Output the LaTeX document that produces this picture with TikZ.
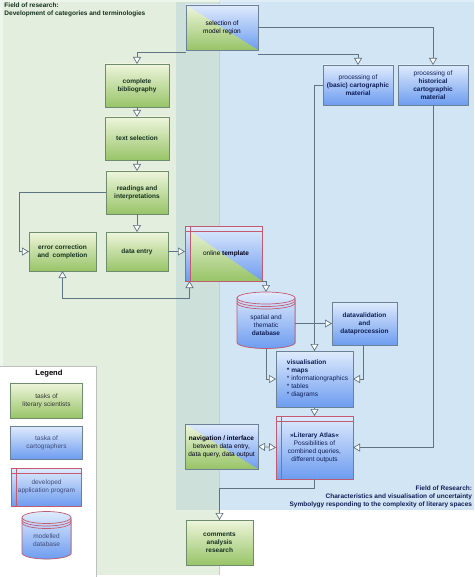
\documentclass[tikz,border=0pt]{standalone}
\usepackage{fontspec}
\setmainfont{Liberation Sans}
\usetikzlibrary{arrows.meta,shadows}
\definecolor{bggreen}{HTML}{E3EEDE}
\definecolor{bgblue}{HTML}{D2E5F4}
\definecolor{bgboth}{HTML}{CDE0DA}
\definecolor{gtop}{HTML}{EEF5DC}
\definecolor{gbot}{HTML}{98C468}
\definecolor{btop}{HTML}{DFEBFC}
\definecolor{bbot}{HTML}{6D9CF0}
\definecolor{gline}{HTML}{6F8C6C}
\definecolor{bline}{HTML}{6B8296}
\definecolor{rline}{HTML}{C25A70}
\definecolor{cline}{HTML}{5E7482}
\definecolor{gtext}{HTML}{14301E}
\definecolor{btext}{HTML}{0E1E56}
\tikzset{
  x=1pt,y=1pt,
  every node/.style={font=\fontsize{6.5}{8}\selectfont,align=center,inner sep=0pt,outer sep=0pt},
  softshadow/.style={drop shadow={shadow xshift=0.8pt,shadow yshift=-0.8pt,opacity=.45,fill=black!60}},
  gbox/.style={draw=gline,line width=.7pt,top color=gtop,bottom color=gbot,softshadow,text=gtext},
  bbox/.style={draw=bline,line width=.7pt,top color=btop,bottom color=bbot,softshadow,text=btext},
  tri/.style={path picture={\shade[top color=gtop,bottom color=gbot]
      (path picture bounding box.north west) -- (path picture bounding box.south east) -- (path picture bounding box.south west) -- cycle;}},
  splitbox/.style={draw=#1,line width=.7pt,top color=btop,bottom color=bbot,softshadow,text=black!90!blue,tri},
  apptmpl/.style={draw=rline,line width=.7pt,top color=btop,bottom color=bbot,softshadow,
    path picture={
    \draw[redline] ([xshift=5pt]path picture bounding box.north west) -- ([xshift=5pt]path picture bounding box.south west);
    \draw[redline] ([yshift=-5pt]path picture bounding box.north west) -- ([yshift=-5pt]path picture bounding box.north east);}},
  conn/.style={draw=cline,line width=.7pt,-{Triangle[open,fill=white,length=7pt,width=8pt]}},
  bothconn/.style={draw=cline,line width=.7pt,{Triangle[open,fill=white,length=7pt,width=8pt]}-{Triangle[open,fill=white,length=7pt,width=8pt]}},
  fieldg/.style={text=gtext,font=\fontsize{6.5}{8}\selectfont\bfseries,align=left},
  fieldb/.style={text=btext,font=\fontsize{6.5}{8}\selectfont\bfseries,align=right},
  dbfill/.style={draw=rline,line width=.7pt,top color=btop,bottom color=bbot},
  dbline/.style={draw=rline,line width=.7pt},
  redline/.style={draw=rline,line width=.7pt},
}
\newcommand{\dbshape}[4]{% left, right, top, bottom (page y as negative numbers)
  \fill[black!60,opacity=.35] (#1+.8,#3-6.5-.8) -- (#1+.8,#4+6.5-.8) arc[start angle=180,end angle=360,x radius={(#2-#1)/2},y radius=6] -- (#2+.8,#3-6.5-.8) -- cycle;
  \path[dbfill] (#1,#3-6) -- (#1,#4+6) arc[start angle=180,end angle=360,x radius={(#2-#1)/2},y radius=6] -- (#2,#3-6) arc[start angle=0,end angle=180,x radius={(#2-#1)/2},y radius=6] -- cycle;
  \draw[dbline] (#1,#3-6) arc[start angle=180,end angle=360,x radius={(#2-#1)/2},y radius=6] (#1,#3-8.5) arc[start angle=180,end angle=360,x radius={(#2-#1)/2},y radius=6] (#1,#3-11) arc[start angle=180,end angle=360,x radius={(#2-#1)/2},y radius=6];
}
\begin{document}
\begin{tikzpicture}
\useasboundingbox (0,0) rectangle (474,-577);
% backgrounds
\fill[white] (0,0) rectangle (474,-577);
\fill[bggreen!60] (0,0) rectangle (219,-575);
\fill[bggreen] (3,-2) rectangle (219,-575);
\fill[bgblue] (219,0) rectangle (474,-510);
\fill[bgboth] (176,-2) rectangle (219,-510);
\fill[bgblue!70] (219,0) rectangle (474,-2);
\draw[black!20,line width=.5pt] (219,-2) -- (219,-575);
\fill[white] (0,-366) rectangle (96,-577);
\draw[black!25,line width=.8pt] (0,-366) -- (96,-366) -- (96,-577);
% field labels
\node[fieldg,anchor=north west] (fieldleft) at (4.5,-3) {Field of research:\\Development of categories and terminologies};
\node[fieldb,anchor=south east] (fieldright) at (472,-508) {Field of Research:\\Characteristics and visualisation of uncertainty\\Symbolygy responding to the complexity of literary spaces};
% green boxes
\node[gbox,minimum width=64,minimum height=43] (bib) at (137,-85.5) {\textbf{complete}\\\textbf{bibliography}};
\node[gbox,minimum width=64,minimum height=43] (textsel) at (137,-138.5) {\textbf{text selection}};
\node[gbox,minimum width=62,minimum height=43] (read) at (137,-192.5) {\textbf{readings and}\\\textbf{interpretations}};
\node[gbox,minimum width=67,minimum height=39] (err) at (62.5,-251.5) {\textbf{error correction}\\\textbf{and\ \ completion}};
\node[gbox,minimum width=62,minimum height=39] (entry) at (137,-251.5) {\textbf{data entry}};
\node[gbox,minimum width=67,minimum height=45] (comments) at (219.5,-542.5) {\textbf{comments}\\\textbf{analysis}\\\textbf{research}};
% blue boxes
\node[bbox,minimum width=70,minimum height=40] (basic) at (358,-85) {processing of\\\textbf{(basic) cartographic}\\\textbf{material}};
\node[bbox,minimum width=70,minimum height=40] (hist) at (433,-85) {processing of\\\textbf{historical}\\\textbf{cartographic}\\\textbf{material}};
\node[bbox,minimum width=65,minimum height=43] (dv) at (364.5,-323.5) {\textbf{datavalidation}\\\textbf{and}\\\textbf{dataprocession}};
\node[bbox,align=left,minimum width=77,minimum height=56] (vis) at (314.5,-379) {\hspace*{6pt}\textbf{visualisation}\\\hspace*{6pt}\textbf{* maps}\\\hspace*{6pt}* informationgraphics\\\hspace*{6pt}* tables\\\hspace*{6pt}* diagrams};
% split boxes
\node[splitbox=bline,minimum width=72,minimum height=45] (sel) at (222,-27.5) {selection of\\model region};
\node[splitbox=bline,minimum width=73,minimum height=45] (nav) at (221.5,-446.5) {\textbf{navigation / interface}\\between data entry,\\data query, data output};
% application boxes
\node[draw=rline,line width=.7pt,top color=btop,bottom color=bbot,softshadow,text=black!90!blue,minimum width=77,minimum height=55,
  path picture={\shade[top color=gtop,bottom color=gbot]
    ([xshift=5pt,yshift=-5pt]path picture bounding box.north west) -- (path picture bounding box.south east) -- ([xshift=5pt]path picture bounding box.south west) -- cycle;
    \draw[redline] ([xshift=5pt]path picture bounding box.north west) -- ([xshift=5pt]path picture bounding box.south west);
    \draw[redline] ([yshift=-5pt]path picture bounding box.north west) -- ([yshift=-5pt]path picture bounding box.north east);}] (tmpl) at (223.5,-253.5) {\hspace*{5pt}online \textbf{template}};
\node[apptmpl,text=btext,minimum width=77,minimum height=63] (atlas) at (314.5,-447.5) {\textbf{»Literary Atlas«}\\Possibilities of\\combined queries,\\different outputs};
% database
\dbshape{237}{295}{-292}{-348.5}
\node[minimum width=58,minimum height=56.5,text=btext] (db) at (266,-320.25) {\\[7pt]spatial and\\thematic\\\textbf{database}};
% legend
\node[font=\fontsize{7.6}{9}\selectfont\bfseries,text=black] (legendtitle) at (49,-374) {Legend};
\node[gbox,text=black!80,minimum width=72,minimum height=35] (lg) at (46.5,-400.5) {tasks of\\literary scientists};
\node[bbox,text=btext!80,minimum width=72,minimum height=33] (lb) at (46.5,-442.5) {taska of\\cartographers};
\node[apptmpl,text=btext!80,minimum width=70,minimum height=38] (la) at (46.5,-487) {developed\\application program};
\dbshape{22}{71}{-511.5}{-559}
\node[minimum width=49,minimum height=47.5,text=btext!80] (ld) at (46.5,-535.25) {\\[6pt]modelled\\database};
% connectors
\coordinate (errturn) at (19,-192.5);
\coordinate (tmplturn) at (189.5,-298);
\coordinate (tmplfoot) at (189.5,-281);
\coordinate (atlasturn) at (314.5,-488);
\draw[conn] ([yshift=-2pt]sel.south west) -| (bib.north);
\draw[conn] (sel.east) -| (hist.north);
\draw[conn] ([yshift=-4pt]sel.south east) -| (basic.north);
\draw[conn] (bib) -- (textsel);
\draw[conn] (textsel) -- (read);
\draw[conn] (read) -- (entry);
\draw[conn] (read.west) -- (errturn) |- (err.west);
\draw[conn] (entry.east) -- (entry.east -| tmpl.west);
\draw[conn] (tmplturn) -- (tmplfoot);
\draw[conn] (tmplturn) -| (err.south);
\draw[conn] (tmpl.south east) -| (db.north);
\draw[conn] (dv.west -| db.east) -- (dv.west);
\draw[conn] (db.south) |- (vis.west);
\draw[conn] ([xshift=-1.5pt]dv.south) |- (vis.east);
\draw[conn] (basic.west) -| (vis.north);
\draw[conn] (vis) -- (atlas);
\draw[conn] (hist.south) |- (atlas.east);
\draw[bothconn] (nav.east) -- (atlas.west);
\draw[conn] (atlas.south) -- (atlasturn) -| (comments.north);
\end{tikzpicture}
\end{document}
